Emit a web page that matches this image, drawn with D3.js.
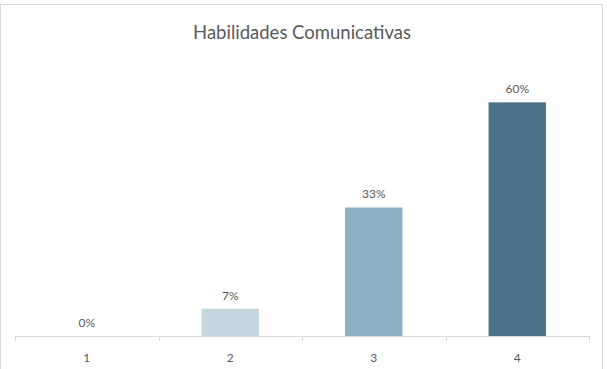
<!DOCTYPE html>
<html>
<head>
<meta charset="utf-8">
<script src="https://cdn.jsdelivr.net/npm/d3@7"></script>
<style>
  html, body { margin: 0; padding: 0; background: #fff; }
  svg { display: block; }
</style>
</head>
<body>
<svg id="chart" width="607" height="369"></svg>
<script>
// Chart data
const categories = ["1", "2", "3", "4"];
const values = [0, 7, 33, 60];            // percent
const valueLabels = ["0%", "7%", "33%", "60%"];
const barColors = ["#c4d6e0", "#c4d6e0", "#8fb0c3", "#4a7187"];
const chartTitle = "Habilidades Comunicativas";

const svg = d3.select("#chart");
const W = 607, H = 369;
const font = "Lato, 'Open Sans', sans-serif";
const textColor = "#595959";

// Outer frame
svg.append("rect")
  .attr("x", 0.5).attr("y", 4.5)
  .attr("width", 602).attr("height", H + 10)
  .attr("fill", "#fff")
  .attr("stroke", "#d9d9d9").attr("stroke-width", 1);

// Plot area
const plotLeft = 15, plotRight = 589, plotBottom = 336, plotTop = 63.4;

const x = d3.scaleBand()
  .domain(categories)
  .range([plotLeft, plotRight])
  .paddingInner(0.6)
  .paddingOuter(0.3);

const y = d3.scaleLinear()
  .domain([0, 70])
  .range([plotBottom, plotTop]);

// Title
svg.append("text")
  .attr("x", (plotLeft + plotRight) / 2)
  .attr("y", 39)
  .attr("text-anchor", "middle")
  .attr("font-family", font)
  .attr("font-size", 18.5)
  .attr("fill", textColor)
  .text(chartTitle);

// Bars
svg.selectAll("rect.bar")
  .data(values)
  .join("rect")
  .attr("class", "bar")
  .attr("x", (d, i) => x(categories[i]))
  .attr("width", x.bandwidth())
  .attr("y", d => y(d))
  .attr("height", d => y(0) - y(d))
  .attr("fill", (d, i) => barColors[i]);

// Value labels
svg.selectAll("text.val")
  .data(values)
  .join("text")
  .attr("class", "val")
  .attr("x", (d, i) => x(categories[i]) + x.bandwidth() / 2)
  .attr("y", d => y(d) - 9)
  .attr("text-anchor", "middle")
  .attr("font-family", font)
  .attr("font-size", 12)
  .attr("fill", textColor)
  .text((d, i) => valueLabels[i]);

// Category axis with tick marks between categories
const axis = d3.axisBottom(x).tickSize(0).tickPadding(17);
const gAxis = svg.append("g")
  .attr("transform", `translate(0,${plotBottom})`)
  .call(axis);
gAxis.select(".domain").remove();
gAxis.selectAll("text")
  .attr("font-family", font)
  .attr("font-size", 12)
  .attr("fill", textColor);

gAxis.append("line")
  .attr("x1", plotLeft).attr("x2", plotRight)
  .attr("y1", 0.5).attr("y2", 0.5)
  .attr("stroke", "#d9d9d9");

const step = x.step();
const gap = step - x.bandwidth();
const boundaries = categories.map(c => x(c) - gap / 2)
  .concat([x(categories[categories.length - 1]) + x.bandwidth() + gap / 2]);
gAxis.selectAll("line.tick-mark")
  .data(boundaries)
  .join("line")
  .attr("class", "tick-mark")
  .attr("x1", d => Math.round(d) + 0.5).attr("x2", d => Math.round(d) + 0.5)
  .attr("y1", 0).attr("y2", 5)
  .attr("stroke", "#d9d9d9");
</script>
</body>
</html>
